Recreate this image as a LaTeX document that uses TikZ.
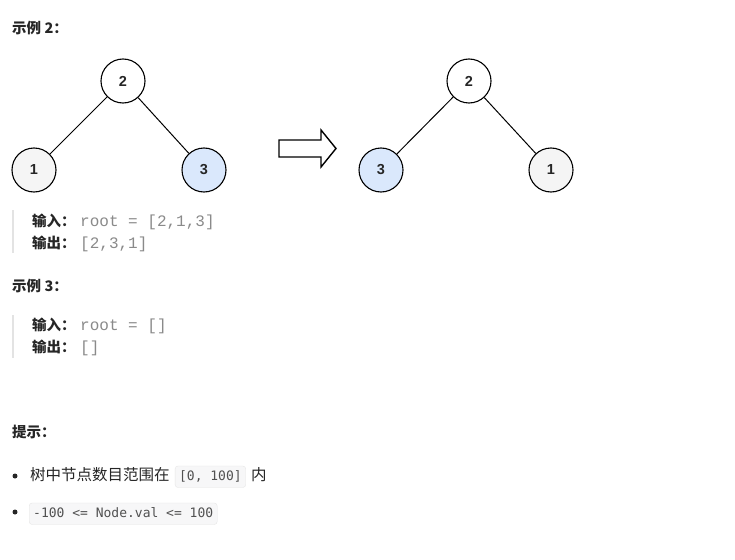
\documentclass[tikz,border=0pt]{standalone}
\usepackage{fontspec}
\setmainfont{Liberation Sans}
\newfontfamily\cjk{Noto Sans CJK SC}
\newfontfamily\codefont{Liberation Mono}
\newfontfamily\boxfont{DejaVu Sans Mono}
\usetikzlibrary{positioning}
\definecolor{leafgray}{HTML}{F5F5F5}
\definecolor{leafblue}{HTML}{DAE8FC}
\definecolor{codegray}{HTML}{8A8A8A}
\definecolor{bargray}{HTML}{E3E3E3}
\definecolor{boxfill}{HTML}{F7F7F8}
\definecolor{boxline}{HTML}{E6E6E6}
\definecolor{inkgray}{HTML}{262626}
\tikzstyle{tree node}=[circle, draw, line width=1.1pt, minimum size=44pt, inner sep=0pt,
  font=\fontsize{14.5}{14.5}\selectfont\bfseries, text=inkgray]
\tikzstyle{heading}=[anchor=base west, inner sep=0pt, text=inkgray,
  font=\cjk\bfseries\fontsize{14.5}{14.5}\selectfont]
\tikzstyle{code}=[anchor=base west, inner sep=0pt, text=codegray,
  font=\codefont\fontsize{16}{16}\selectfont]
\tikzstyle{hint}=[anchor=base west, inner sep=0pt, text=inkgray,
  font=\cjk\fontsize{15.5}{15.5}\selectfont]
\tikzstyle{code box}=[rounded corners=3pt, draw=boxline, fill=boxfill, text=inkgray!80,
  inner xsep=4pt, inner ysep=4pt, text height=10pt, text depth=3.5pt,
  font=\boxfont\fontsize{13}{13}\selectfont]
\tikzstyle{bar}=[bargray, line width=2.5pt]
\begin{document}
\begin{tikzpicture}[x=1pt, y=-1pt]
  \useasboundingbox[fill=white] (0,0) rectangle (735,559);

  \node[heading] (ex2) at (12,34) {示例 2：};

  % before
  \node[tree node] (a2) at (123,81) {2};
  \node[tree node, fill=leafgray] (a1) at (34,170) {1};
  \node[tree node, fill=leafblue] (a3) at (204,170) {3};
  \draw[line width=1pt] (a2) -- (a1);
  \draw[line width=1pt] (a2) -- (a3);

  \draw[line width=1.4pt, line join=miter] (279,140) -- (321,140) -- (321,130) -- (336,148.5)
    -- (321,167) -- (321,157) -- (279,157) -- cycle;

  % after
  \node[tree node] (b2) at (469,81) {2};
  \node[tree node, fill=leafblue] (b3) at (381,170) {3};
  \node[tree node, fill=leafgray] (b1) at (551,170) {1};
  \draw[line width=1pt] (b2) -- (b3);
  \draw[line width=1pt] (b2) -- (b1);

  \draw[bar] (13,210) -- (13,253);
  \node[heading] (in2) at (32,226) {输入：};
  \node[code] (in2val) at (80,226) {root = [2,1,3]};
  \node[heading] (out2) at (32,248) {输出：};
  \node[code] (out2val) at (80,248) {[2,3,1]};

  \node[heading] (ex3) at (12,291) {示例 3：};
  \draw[bar] (13,315) -- (13,358);
  \node[heading] (in3) at (32,330) {输入：};
  \node[code] (in3val) at (80,330) {root = []};
  \node[heading] (out3) at (32,352) {输出：};
  \node[code] (out3val) at (80,352) {[]};

  \node[heading] (tips) at (12,437) {提示：};

  \node[circle, fill=inkgray, inner sep=0pt, minimum size=5pt] (dot1) at (15,476) {};
  \node[hint] (hint1) at (30,480) {树中节点数目范围在};
  \node[code box, right=5pt of hint1.base east, anchor=base west] (range) {[0, 100]};
  \node[hint, right=5pt of range.base east, anchor=base west] (hint1end) {内};

  \node[circle, fill=inkgray, inner sep=0pt, minimum size=5pt] (dot2) at (15,512) {};
  \node[code box, anchor=base west] (bound) at (29,517) {-100 <= Node.val <= 100};
\end{tikzpicture}
\end{document}
